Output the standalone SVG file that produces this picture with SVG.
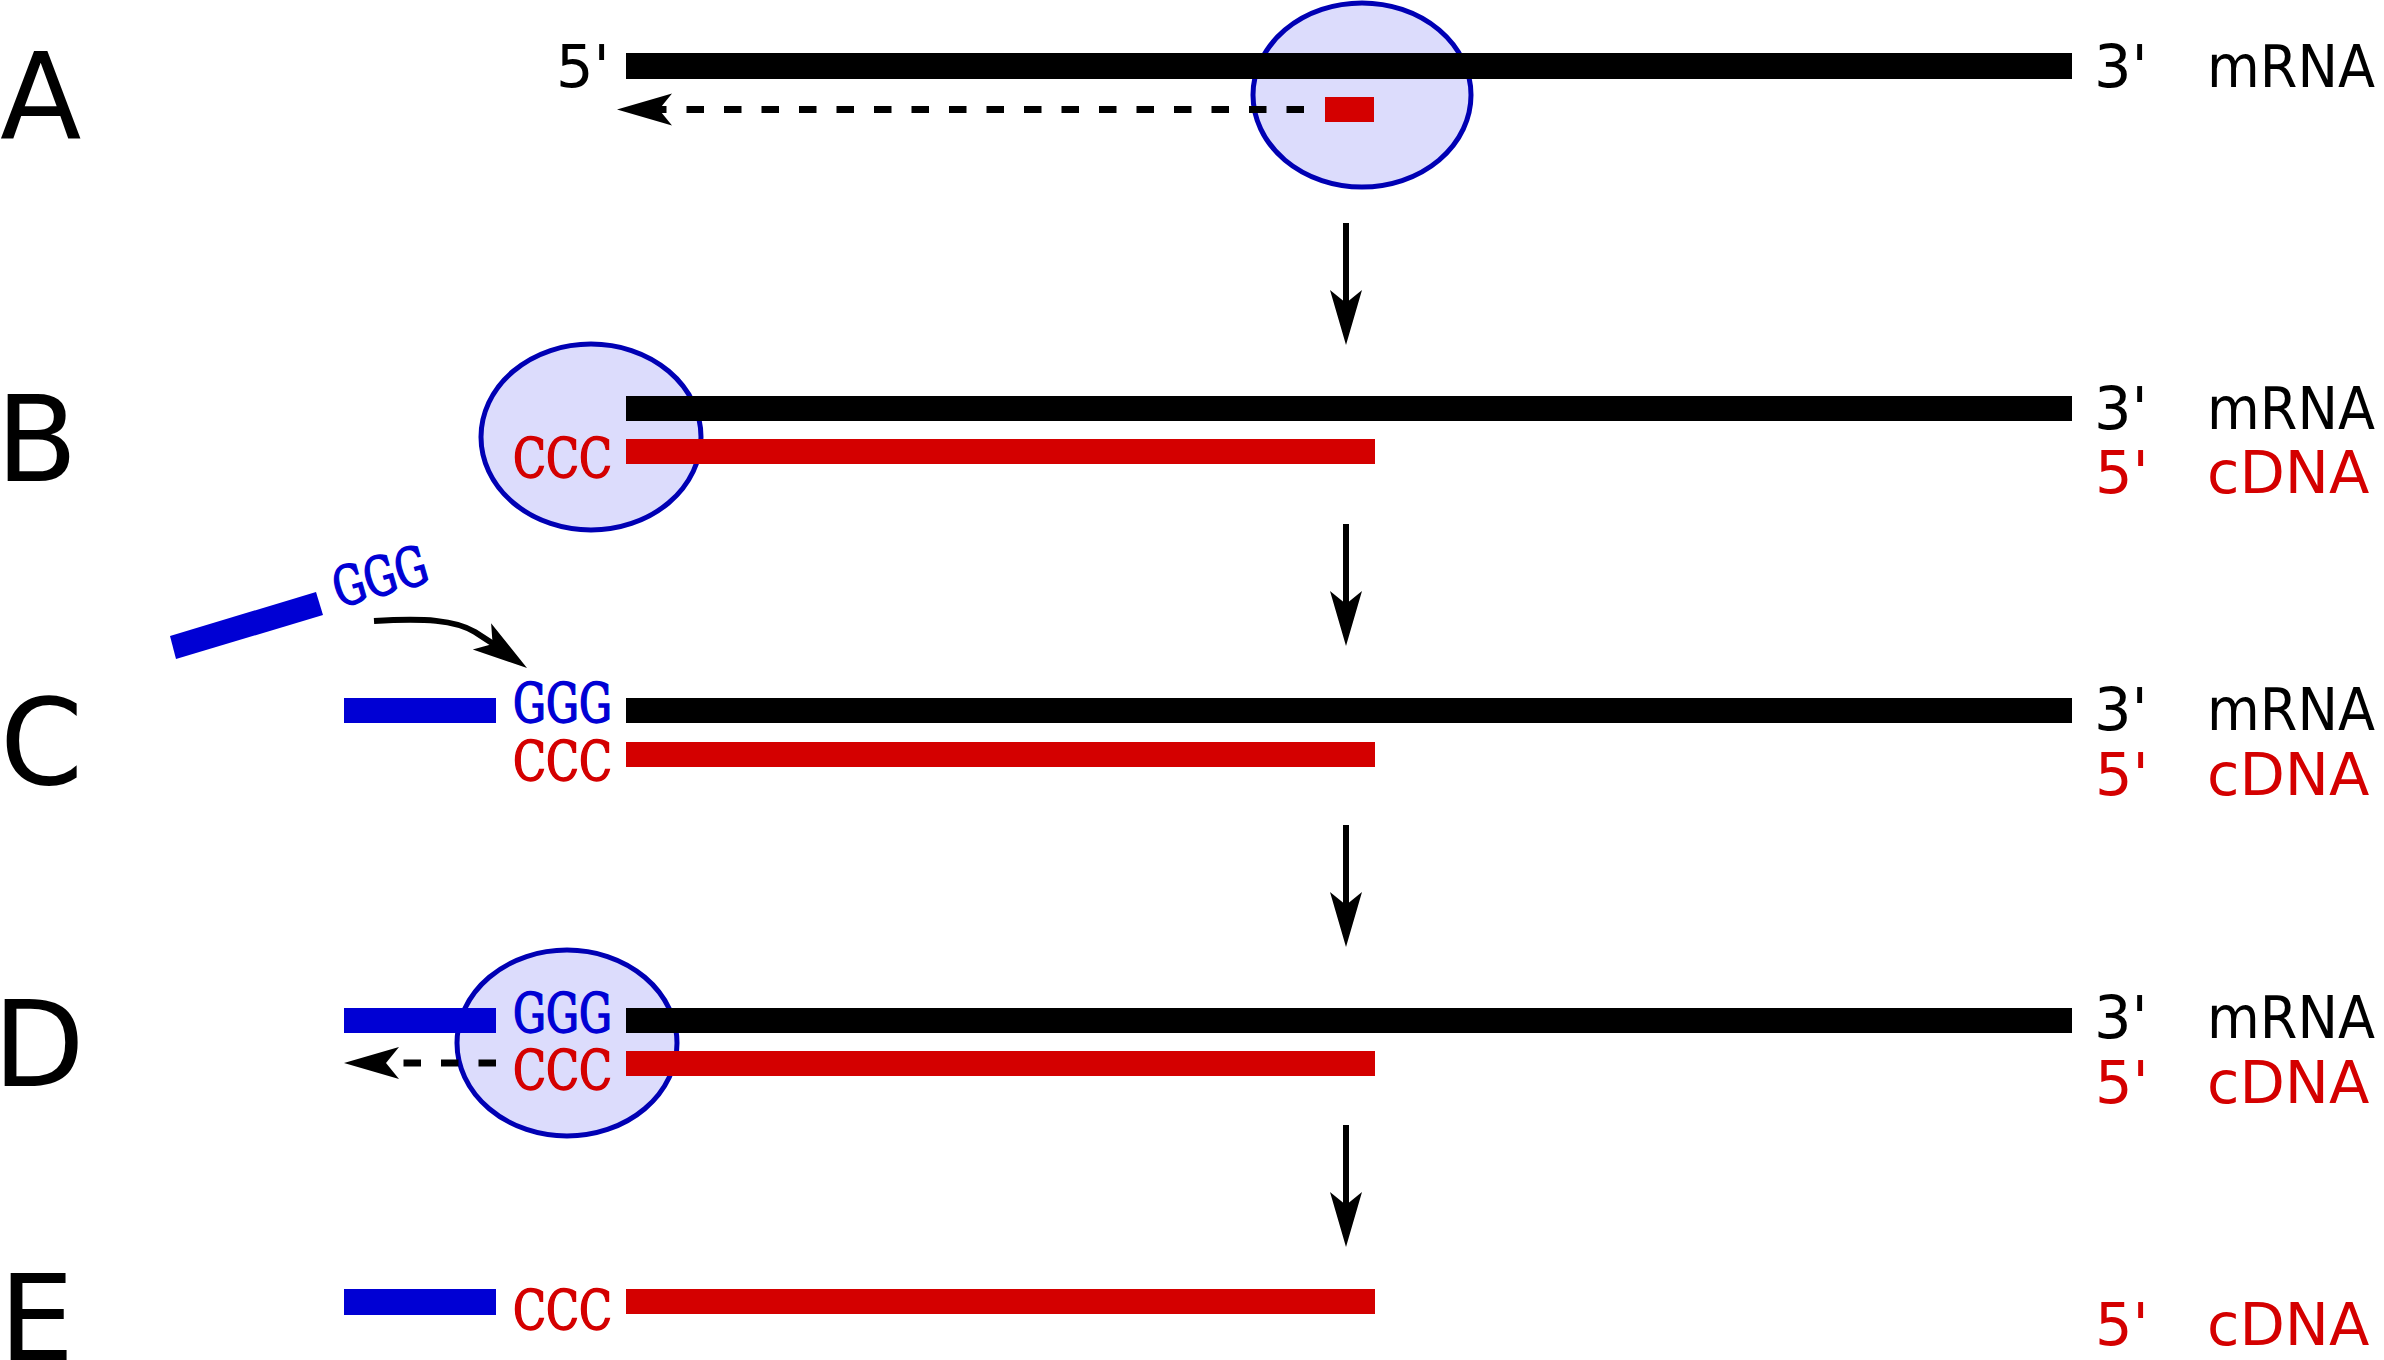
<svg xmlns="http://www.w3.org/2000/svg" width="2384" height="1360" viewBox="0 0 2384 1360">
<style>
.big{font-family:"DejaVu Sans",sans-serif;font-size:119px;fill:#000}
.lab{font-family:"DejaVu Sans",sans-serif;font-size:59px}
.k{fill:#000}.r{fill:#d40000}.b{fill:#0000d4}
.seq{font-family:"DejaVu Serif","Liberation Serif",serif;font-size:54px;stroke-width:1.6}
.seq.r{stroke:#d40000}.seq.b{stroke:#0000d4}
.enz{fill:#dcdcfc;stroke:#0000b4;stroke-width:5}
.dash{stroke:#000;stroke-width:7;stroke-dasharray:17.5 20;fill:none}
.shaft{stroke:#000;stroke-width:6;fill:none}
</style>
<defs><path id="ah" d="M0,0 L-55,-16 L-42,0 L-55,16 Z" fill="#000"/></defs>
<rect width="2384" height="1360" fill="#fff"/>
<g id="panel-A">
<text class="big" x="0" y="138">A</text>
<ellipse class="enz" cx="1362" cy="95" rx="109" ry="92"/>
<rect class="k" x="626" y="53" width="1446" height="26"/>
<rect class="r" x="1325" y="97" width="49" height="25"/>
<text class="lab k" x="556" y="87">5'</text>
<text class="lab k" x="2094" y="87">3'</text>
<text class="lab k" x="2207" y="87" textLength="168" lengthAdjust="spacingAndGlyphs">mRNA</text>
</g>
<g id="panel-B">
<text class="big" x="-4" y="481">B</text>
<ellipse class="enz" cx="591" cy="437" rx="110" ry="93"/>
<rect class="k" x="626" y="396" width="1446" height="25"/>
<rect class="r" x="626" y="439" width="749" height="25"/>
<text class="seq r" x="513" y="477" textLength="99" lengthAdjust="spacingAndGlyphs">CCC</text>
<text class="lab k" x="2094" y="429">3'</text>
<text class="lab k" x="2207" y="429" textLength="168" lengthAdjust="spacingAndGlyphs">mRNA</text>
<text class="lab r" x="2095" y="493">5'</text>
<text class="lab r" x="2207" y="493">cDNA</text>
</g>
<g id="panel-C">
<text class="big" x="0" y="784">C</text>
<polygon class="b" points="170,636 176,659 323,615 316,592"/>
<text class="seq b" transform="translate(342,607) rotate(-16)" x="-3" y="0" textLength="96" lengthAdjust="spacingAndGlyphs">GGG</text>
<rect class="b" x="344" y="698" width="152" height="25"/>
<rect class="k" x="626" y="698" width="1446" height="25"/>
<rect class="r" x="626" y="742" width="749" height="25"/>
<text class="seq b" x="513" y="722" textLength="99" lengthAdjust="spacingAndGlyphs">GGG</text>
<text class="seq r" x="513" y="780" textLength="99" lengthAdjust="spacingAndGlyphs">CCC</text>
<text class="lab k" x="2094" y="730">3'</text>
<text class="lab k" x="2207" y="730" textLength="168" lengthAdjust="spacingAndGlyphs">mRNA</text>
<text class="lab r" x="2095" y="795">5'</text>
<text class="lab r" x="2207" y="795">cDNA</text>
</g>
<g id="panel-D">
<text class="big" x="-7" y="1086">D</text>
<ellipse class="enz" cx="567" cy="1043" rx="110" ry="93"/>
<rect class="b" x="344" y="1008" width="152" height="25"/>
<rect class="k" x="626" y="1008" width="1446" height="25"/>
<rect class="r" x="626" y="1051" width="749" height="25"/>
<text class="seq b" x="513" y="1032" textLength="99" lengthAdjust="spacingAndGlyphs">GGG</text>
<text class="seq r" x="513" y="1089" textLength="99" lengthAdjust="spacingAndGlyphs">CCC</text>
<text class="lab k" x="2094" y="1038">3'</text>
<text class="lab k" x="2207" y="1038" textLength="168" lengthAdjust="spacingAndGlyphs">mRNA</text>
<text class="lab r" x="2095" y="1103">5'</text>
<text class="lab r" x="2207" y="1103">cDNA</text>
</g>
<g id="panel-E">
<text class="big" x="-1" y="1360">E</text>
<rect class="b" x="344" y="1289" width="152" height="26"/>
<rect class="r" x="626" y="1289" width="749" height="25"/>
<text class="seq r" x="513" y="1329" textLength="99" lengthAdjust="spacingAndGlyphs">CCC</text>
<text class="lab r" x="2095" y="1345">5'</text>
<text class="lab r" x="2207" y="1345">cDNA</text>
</g>
<g id="connectors">
<line class="dash" x1="1304" y1="109.5" x2="650" y2="109.5"/>
<use href="#ah" transform="translate(617,109.5) rotate(180)"/>
<line class="dash" x1="496" y1="1063" x2="380" y2="1063"/>
<use href="#ah" transform="translate(344,1063) rotate(180)"/>
<line class="shaft" x1="1346" y1="223" x2="1346" y2="305"/>
<use href="#ah" transform="translate(1346,345) rotate(90)"/>
<line class="shaft" x1="1346" y1="524" x2="1346" y2="606"/>
<use href="#ah" transform="translate(1346,646) rotate(90)"/>
<line class="shaft" x1="1346" y1="825" x2="1346" y2="907"/>
<use href="#ah" transform="translate(1346,947) rotate(90)"/>
<line class="shaft" x1="1346" y1="1125" x2="1346" y2="1207"/>
<use href="#ah" transform="translate(1346,1247) rotate(90)"/>
<path class="shaft" d="M374,621 C425,618 455,620 475,632 L495,645"/>
<use href="#ah" transform="translate(527,668) rotate(35)"/>
</g>
</svg>
